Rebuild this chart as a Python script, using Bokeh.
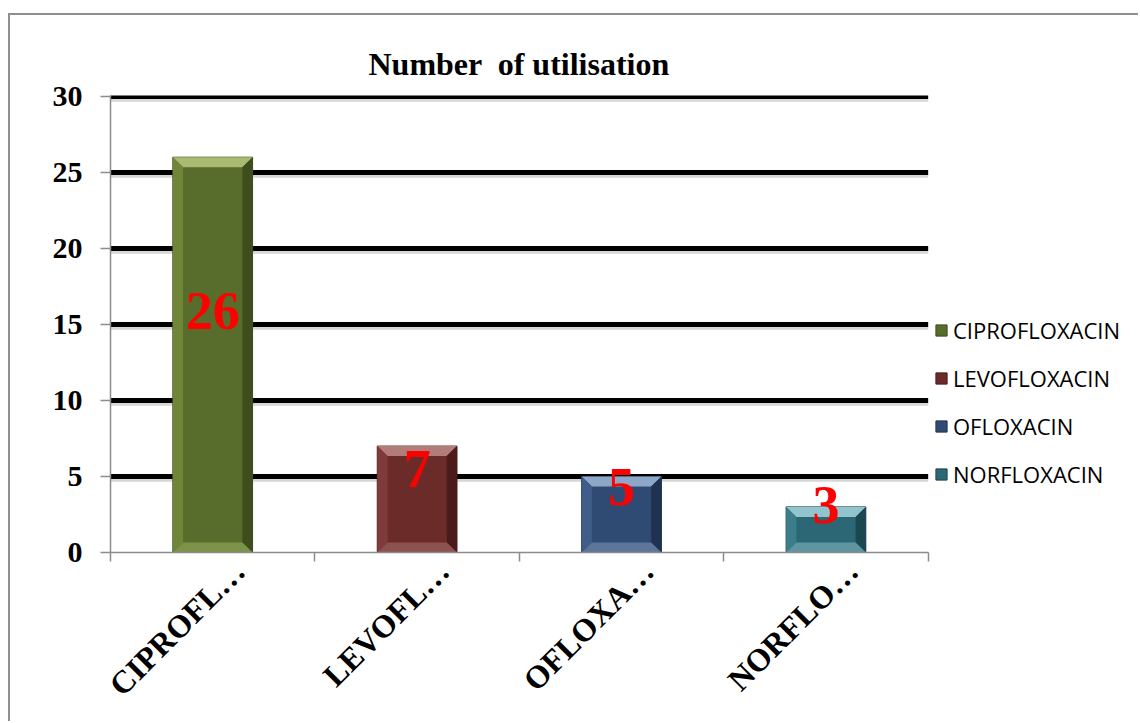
import math
import numpy as np
from bokeh.plotting import figure
from bokeh.models import (FixedTicker, Legend, LegendItem, Range1d, ColumnDataSource)
from bokeh.core.properties import value
from bokeh.embed import file_html
from bokeh.resources import INLINE

# Data
categories = ["CIPROFLOXACIN", "LEVOFLOXACIN", "OFLOXACIN", "NORFLOXACIN"]
tick_labels = ["CIPROFL…", "LEVOFL…", "OFLOXA…", "NORFLO…"]
counts = [26, 7, 5, 3]
y_ticks = [0, 5, 10, 15, 20, 25, 30]

# Styling
face = ["#586d2b", "#6b2b29", "#2f4b74", "#2b6774"]
top_c = ["#a9bb72", "#b27c7a", "#8ea6c8", "#92c4ce"]
left_c = ["#6f8538", "#7f3b39", "#3f5d88", "#3b7d8b"]
right_c = ["#3e4d1c", "#4a1b1a", "#1f3350", "#1b4750"]
bottom_c = ["#7d9249", "#8c5250", "#5c7599", "#5f95a1"]
label_y = [15.9, 5.5, 4.3, 3.1]   # vertical anchor of the red value labels

SERIF = value("Liberation Serif")
n = len(categories)

# the frame runs past the last category so the legend has room on the right
p = figure(width=1130, height=708, output_backend="svg", toolbar_location=None,
           x_range=Range1d(0, n + 0.98), y_range=Range1d(0, 30.06),
           min_border_left=100, min_border_right=12, min_border_top=80,
           min_border_bottom=171, outline_line_color=None,
           title="Number \u00a0of utilisation")
p.styles = {"border-left": "2px solid #8f8f8f", "border-top": "2px solid #8f8f8f",
            "margin-left": "8px", "margin-top": "13px"}

p.title.align = "left"
p.title.offset = 258
p.title.text_font = "Liberation Serif"
p.title.text_font_size = "32px"
p.title.text_font_style = "bold"
p.title.text_color = "black"
p.title.standoff = 27

centers = np.arange(n) + 0.5
bw = 0.39

# grid: thick black lines with a soft grey shadow underneath
p.xgrid.visible = False
p.ygrid.visible = False
grid_y = y_ticks[1:]
shadow_y = [t - 0.22 for t in grid_y]
p.segment(x0=0, x1=n, y0=shadow_y, y1=shadow_y, line_color="#d6d6d6", line_width=4)
p.segment(x0=0, x1=n, y0=grid_y, y1=grid_y, line_color="black", line_width=5)

# bars
src = ColumnDataSource(dict(x=centers, top=counts, color=face, edge=right_c, name=categories))
bars = p.vbar(x="x", top="top", width=bw, bottom=0, fill_color="color",
              line_color="edge", line_width=1, source=src)

# bevelled edges
dx = 0.05
dy = 0.66
for i, (c, v) in enumerate(zip(centers, counts)):
    x0, x1 = c - bw / 2, c + bw / 2
    p.patch([x0, x1, x1 - dx, x0 + dx], [v, v, v - dy, v - dy], color=top_c[i], line_width=0)
    p.patch([x0, x0 + dx, x0 + dx, x0], [0, dy, v - dy, v], color=left_c[i], line_width=0)
    p.patch([x1, x1 - dx, x1 - dx, x1], [0, dy, v - dy, v], color=right_c[i], line_width=0)
    p.patch([x0, x1, x1 - dx, x0 + dx], [0, 0, dy, dy], color=bottom_c[i], line_width=0)

# value labels
p.text(x=centers, y=label_y, text=[str(v) for v in counts], text_color="#ff0000",
       text_font=SERIF, text_font_style="bold", text_font_size="54px",
       text_align="center", text_baseline="middle")

# y axis
ya = p.yaxis[0]
ya.ticker = FixedTicker(ticks=y_ticks)
ya.axis_line_color = "#8c8c8c"
ya.axis_line_width = 1.5
ya.major_tick_line_color = "#8c8c8c"
ya.major_tick_line_width = 1.5
ya.major_tick_out = 10
ya.major_tick_in = 0
ya.minor_tick_line_color = None
ya.major_label_text_font = "Liberation Serif"
ya.major_label_text_font_style = "bold"
ya.major_label_text_font_size = "30px"
ya.major_label_text_color = "black"
ya.major_label_standoff = 18

# x axis: slanted labels under each bar, ticks on category boundaries
label_pos = centers + 0.13
xa = p.xaxis[0]
xa.bounds = (0, n)
xa.ticker = FixedTicker(ticks=list(label_pos), minor_ticks=list(range(n + 1)))
xa.major_label_overrides = {float(c): t for c, t in zip(label_pos, tick_labels)}
xa.axis_line_color = "#8c8c8c"
xa.axis_line_width = 1.5
xa.major_tick_line_color = None
xa.minor_tick_line_color = "#8c8c8c"
xa.minor_tick_line_width = 1.5
xa.minor_tick_out = 9
xa.minor_tick_in = 0
xa.major_label_orientation = math.pi / 4
xa.major_label_text_font = "Liberation Serif"
xa.major_label_text_font_style = "bold"
xa.major_label_text_font_size = "32px"
xa.major_label_text_color = "black"
xa.major_label_standoff = 4

# legend: one entry per bar
items = [LegendItem(label=name, renderers=[bars], index=i) for i, name in enumerate(categories)]
legend = Legend(items=items, location=(824, 63), orientation="vertical",
                glyph_width=14, glyph_height=14, label_height=24, spacing=18,
                padding=0, margin=0, label_standoff=5,
                label_text_font="Open Sans", label_text_font_size="22px",
                label_text_color="black", background_fill_alpha=0,
                border_line_color=None)
p.add_layout(legend)

open("out.html", "w").write(file_html(p, INLINE))
